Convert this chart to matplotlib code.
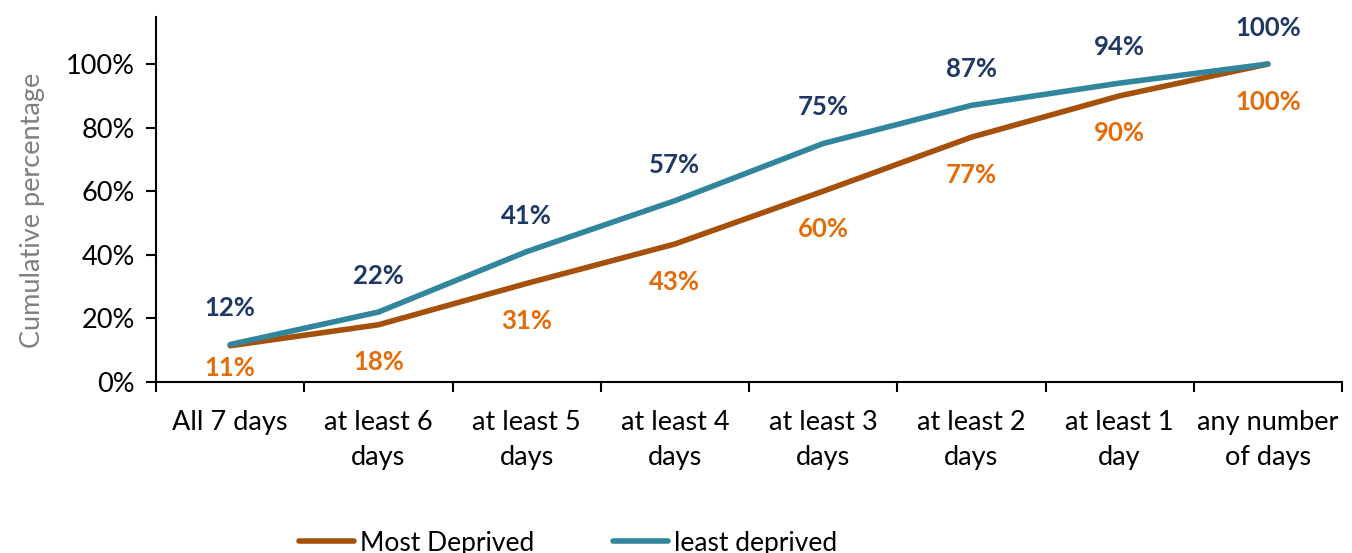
import matplotlib.pyplot as plt
from matplotlib.ticker import PercentFormatter, FixedLocator

plt.rcParams['font.family'] = ['Lato', 'DejaVu Sans']

categories = ['All 7 days', 'at least 6\ndays', 'at least 5\ndays', 'at least 4\ndays',
              'at least 3\ndays', 'at least 2\ndays', 'at least 1\nday', 'any number\nof days']
most_deprived = [11.4, 18, 31, 43.4, 60, 77, 90, 100]
least_deprived = [11.8, 22, 41, 57, 75, 87, 94, 100]

fig = plt.figure(figsize=(13.52, 5.53), dpi=100)
ax = fig.add_axes([0.1154, 0.3092, 0.8772, 0.6601])

x = range(len(categories))
ax.plot(x, most_deprived, color='#A5500B', lw=4, solid_capstyle='round', label='Most Deprived')
ax.plot(x, least_deprived, color='#31859C', lw=4, solid_capstyle='round', label='least deprived')

for i, (m, l) in enumerate(zip(most_deprived, least_deprived)):
    ax.annotate(f'{round(l)}%', (i, l), xytext=(0, 26), textcoords='offset points',
                ha='center', va='center', color='#1F3864', fontsize=18.5, fontweight='bold')
    off = -16 if i == 0 else -27
    ax.annotate(f'{round(m)}%', (i, m), xytext=(0, off), textcoords='offset points',
                ha='center', va='center', color='#E36C09', fontsize=18.5, fontweight='bold')

ax.set_xlim(-0.5, len(categories) - 0.5)
ax.set_ylim(0, 114.8)
ax.set_yticks([0, 20, 40, 60, 80, 100])
ax.yaxis.set_major_formatter(PercentFormatter(decimals=0))
ax.set_xticks(list(x))
ax.set_xticklabels(categories)
ax.xaxis.set_minor_locator(FixedLocator([i - 0.5 for i in range(len(categories) + 1)]))
ax.tick_params(axis='x', which='major', length=0, pad=20, labelsize=19.5)
ax.tick_params(axis='x', which='minor', length=7, width=1.5, direction='out')
ax.tick_params(axis='y', length=7, width=1.5, labelsize=19.5, pad=8)
for lbl in ax.get_xticklabels():
    lbl.set_linespacing(1.5)
for s in ['top', 'right']:
    ax.spines[s].set_visible(False)
for s in ['left', 'bottom']:
    ax.spines[s].set_linewidth(1.5)

ax.set_ylabel('Cumulative percentage', color='#7F7F7F', fontsize=19.5)
ax.yaxis.set_label_coords(-0.094, 0.47)

fig.legend(loc='center', bbox_to_anchor=(0.42, 0.018), ncol=2, frameon=False,
           fontsize=19, handlelength=2.1, handletextpad=0.2, columnspacing=3.0)

fig.savefig('out.png', dpi=100)
